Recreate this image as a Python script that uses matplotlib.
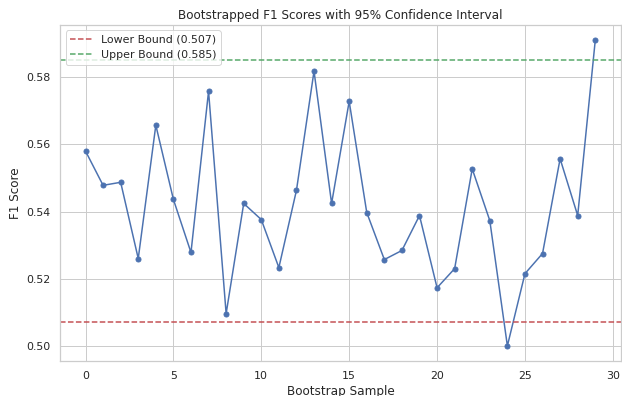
import matplotlib
matplotlib.use("Agg")
import matplotlib.pyplot as plt
import seaborn as sns

samples = list(range(30))
f1_scores = [0.5580, 0.5478, 0.5487, 0.5260, 0.5657, 0.5436, 0.5278, 0.5758,
             0.5096, 0.5424, 0.5376, 0.5233, 0.5463, 0.5818, 0.5424, 0.5728,
             0.5397, 0.5257, 0.5284, 0.5388, 0.5173, 0.5230, 0.5527, 0.5373,
             0.5000, 0.5215, 0.5275, 0.5557, 0.5388, 0.5910]
lower_bound = 0.507
upper_bound = 0.585

sns.set_theme(style="whitegrid")

fig = plt.figure(figsize=(6.22 / 0.72, 3.96 / 0.72), dpi=72)
ax = fig.add_axes([0.0965, 0.088, 0.9015, 0.849])

ax.plot(samples, f1_scores, marker='o', color='#4c72b0', linewidth=1.5, markersize=5)
ax.axhline(lower_bound, color='#c44e52', linestyle='--', linewidth=1.5,
           label=f'Lower Bound ({lower_bound:.3f})')
ax.axhline(upper_bound, color='#55a868', linestyle='--', linewidth=1.5,
           label=f'Upper Bound ({upper_bound:.3f})')

ax.set_title('Bootstrapped F1 Scores with 95% Confidence Interval')
ax.set_xlabel('Bootstrap Sample')
ax.set_ylabel('F1 Score')
ax.legend(loc='upper left')

fig.savefig('out.png', dpi=72)
